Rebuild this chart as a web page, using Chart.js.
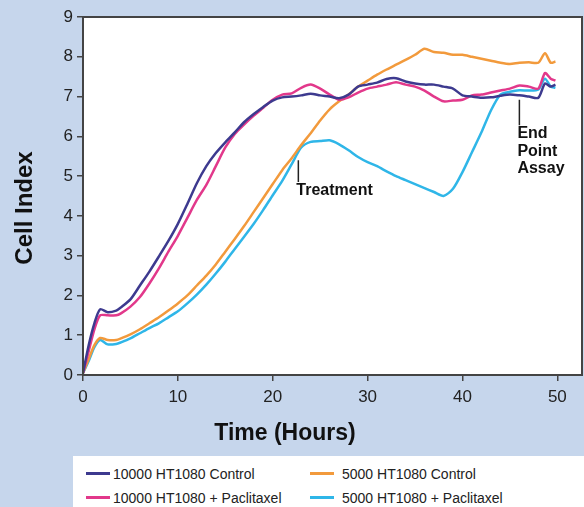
<!DOCTYPE html>
<html>
<head>
<meta charset="utf-8">
<script src="https://cdn.jsdelivr.net/npm/chart.js@4/dist/chart.umd.min.js"></script>
<style>
  html, body { margin: 0; padding: 0; background: #c6d6ec; }
  #wrap { position: relative; width: 584px; height: 507px; background: #c6d6ec; overflow: hidden; }
  #chart { position: absolute; left: 0; top: 0; }
  #legend { position: absolute; left: 73px; top: 456px; width: 511px; height: 51px; background: #fff;
            font-family: "Liberation Sans", Arial, sans-serif; font-size: 14px; color: #222; }
  .item { position: absolute; height: 16px; line-height: 16px; white-space: nowrap; }
  .swatch { position: absolute; left: 0; top: 6px; width: 24px; height: 3px; }
  .item span { position: absolute; left: 27px; top: 0; }
</style>
</head>
<body>
<div id="wrap">
  <canvas id="chart" width="584" height="507"></canvas>
  <div id="legend"></div>
</div>
<script>
// time points (hours) shared by all four traces
const hours = [0, 0.6, 1.2, 1.8, 2.6, 3.5,
  4, 5, 6, 7, 8, 9, 10, 11, 12, 13, 14, 15, 16, 17, 18, 19, 20, 21, 22, 23, 24, 25, 26,
  27, 28, 29, 30, 31, 32, 33, 34, 35, 36, 37, 38, 39, 40, 41, 42, 43, 44, 45, 46, 47, 48,
  48.7, 49.3, 49.8];

const control10000 = [0.05, 0.75, 1.3, 1.65, 1.58, 1.62,
  1.7, 1.9, 2.25, 2.6, 2.98, 3.37, 3.8, 4.3, 4.82, 5.25, 5.58, 5.85, 6.1, 6.36, 6.56, 6.74, 6.9, 6.98, 7.0, 7.03, 7.07, 7.03, 7.0,
  6.96, 7.05, 7.25, 7.3, 7.35, 7.44, 7.46, 7.38, 7.33, 7.3, 7.3, 7.25, 7.2, 7.03, 7.0, 6.97, 6.98, 7.02, 7.05, 7.03, 7.0, 6.97,
  7.33, 7.25, 7.3];

const paclitaxel10000 = [0.05, 0.6, 1.15, 1.5, 1.5, 1.5,
  1.55, 1.72, 1.96, 2.3, 2.68, 3.1, 3.5, 3.95, 4.4, 4.78, 5.25, 5.72, 6.06, 6.3, 6.52, 6.72, 6.92, 7.05, 7.08, 7.22, 7.3, 7.2, 7.05,
  6.92, 6.98, 7.1, 7.2, 7.25, 7.3, 7.36, 7.3, 7.25, 7.15, 7.0, 6.88, 6.9, 6.92, 7.03, 7.05, 7.1, 7.15, 7.2, 7.28, 7.25, 7.2,
  7.59, 7.45, 7.4];

const control5000 = [0.05, 0.4, 0.75, 0.93, 0.88, 0.88,
  0.92, 1.02, 1.15, 1.3, 1.45, 1.62, 1.8, 2.0, 2.25, 2.5, 2.78, 3.1, 3.42, 3.75, 4.1, 4.45, 4.8, 5.15, 5.45, 5.78, 6.08, 6.4, 6.68,
  6.88, 7.05, 7.25, 7.4, 7.55, 7.68, 7.8, 7.92, 8.05, 8.2, 8.12, 8.1, 8.05, 8.05, 8.0, 7.95, 7.9, 7.85, 7.82, 7.85, 7.86, 7.85,
  8.09, 7.85, 7.88];

const paclitaxel5000 = [0.05, 0.35, 0.7, 0.88, 0.77, 0.78,
  0.82, 0.92, 1.05, 1.18, 1.3, 1.45, 1.6, 1.8, 2.02, 2.27, 2.55, 2.85, 3.17, 3.48, 3.8, 4.15, 4.52, 4.88, 5.3, 5.72, 5.86, 5.88, 5.9,
  5.8, 5.65, 5.48, 5.35, 5.25, 5.12, 5.0, 4.9, 4.8, 4.7, 4.6, 4.5, 4.68, 5.1, 5.6, 6.1, 6.65, 7.05, 7.12, 7.16, 7.15, 7.18,
  7.45, 7.25, 7.22];

const seriesNames = ["10000 HT1080 Control", "10000 HT1080 + Paclitaxel", "5000 HT1080 Control", "5000 HT1080 + Paclitaxel"];
const seriesColors = ["#3d3a8f", "#e2388b", "#f29a3c", "#2fb6e8"];
const seriesValues = [control10000, paclitaxel10000, control5000, paclitaxel5000];

const xTicks = [0, 10, 20, 30, 40, 50];

const fontFamily = '"Liberation Sans", Arial, sans-serif';

function toPoints(vals) {
    return hours.map((h, i) => ({ x: h, y: vals[i] }));
}

// white plot area + dark frame, axis titles, annotations
const frame = {
    id: "frame",
    beforeDraw(chart) {
        const { ctx, chartArea: a } = chart;
        ctx.save();
        ctx.fillStyle = "#ffffff";
        ctx.fillRect(a.left, a.top, a.right - a.left, a.bottom - a.top);
        ctx.restore();
    },
    afterDraw(chart) {
        const { ctx, chartArea: a, scales } = chart;
        ctx.save();
        ctx.strokeStyle = "#444";
        ctx.lineWidth = 2;
        ctx.strokeRect(a.left, a.top, a.right - a.left, a.bottom - a.top);

        ctx.fillStyle = "#111";
        ctx.font = "bold 23px " + fontFamily;
        ctx.textAlign = "center";
        ctx.textBaseline = "middle";
        ctx.fillText("Time (Hours)", 285, 434);

        ctx.save();
        ctx.translate(25, 208);
        ctx.rotate(-Math.PI / 2);
        ctx.font = "bold 24px " + fontFamily;
        ctx.fillText("Cell Index", 0, 0);
        ctx.restore();

        // annotation markers
        const x = scales.x, y = scales.y;
        ctx.strokeStyle = "#222";
        ctx.lineWidth = 1.5;
        ctx.beginPath();
        ctx.moveTo(x.getPixelForValue(22.7), y.getPixelForValue(5.4));
        ctx.lineTo(x.getPixelForValue(22.7), y.getPixelForValue(4.85));
        ctx.moveTo(x.getPixelForValue(46), y.getPixelForValue(6.92));
        ctx.lineTo(x.getPixelForValue(46), y.getPixelForValue(6.28));
        ctx.stroke();

        ctx.font = "bold 16px " + fontFamily;
        ctx.textAlign = "left";
        ctx.fillText("Treatment", x.getPixelForValue(22.7) - 2, 191);
        ["End", "Point", "Assay"].forEach((t, i) => {
            ctx.fillText(t, x.getPixelForValue(46) - 2, 134 + i * 17.5);
        });
        ctx.restore();
    }
};

const ctx = document.getElementById("chart").getContext("2d");
new Chart(ctx, {
    type: "line",
    data: {
        datasets: seriesValues.map((vals, i) => ({
            label: seriesNames[i],
            data: toPoints(vals),
            borderColor: seriesColors[i],
            borderWidth: 2.5,
            pointRadius: 0,
            tension: 0.25,
            fill: false
        }))
    },
    options: {
        responsive: false,
        animation: false,
        devicePixelRatio: 1,
        layout: { padding: { top: 17, right: 2, left: 0, bottom: 0 } },
        plugins: { legend: { display: false }, tooltip: { enabled: false } },
        scales: {
            x: {
                type: "linear",
                min: 0,
                max: 52.6,
                afterFit(scale) { scale.height = 132; },
                afterBuildTicks(scale) { scale.ticks = xTicks.map(v => ({ value: v })); },
                grid: { display: true, drawOnChartArea: false, drawTicks: true, tickLength: 6, color: "#444", lineWidth: 1.5 },
                border: { display: false },
                ticks: { color: "#222", font: { family: fontFamily, size: 17 }, padding: 6, maxRotation: 0 }
            },
            y: {
                min: 0,
                max: 9,
                afterFit(scale) { scale.width = 83; },
                grid: { display: true, drawOnChartArea: false, drawTicks: true, tickLength: 6, color: "#444", lineWidth: 1.5 },
                border: { display: false },
                ticks: { stepSize: 1, color: "#222", font: { family: fontFamily, size: 17 }, padding: 4 }
            }
        }
    },
    plugins: [frame]
});

// legend built from the same series lists
const legend = document.getElementById("legend");
const spots = [[13, 10], [13, 34], [237, 10], [237, 34]];
seriesNames.forEach((name, k) => {
    const item = document.createElement("div");
    item.className = "item";
    item.style.left = spots[k][0] + "px";
    item.style.top = spots[k][1] + "px";
    const sw = document.createElement("div");
    sw.className = "swatch";
    sw.style.background = seriesColors[k];
    const label = document.createElement("span");
    label.textContent = name;
    if (k >= 2) label.style.left = "32px";
    item.appendChild(sw);
    item.appendChild(label);
    legend.appendChild(item);
});
</script>
</body>
</html>
